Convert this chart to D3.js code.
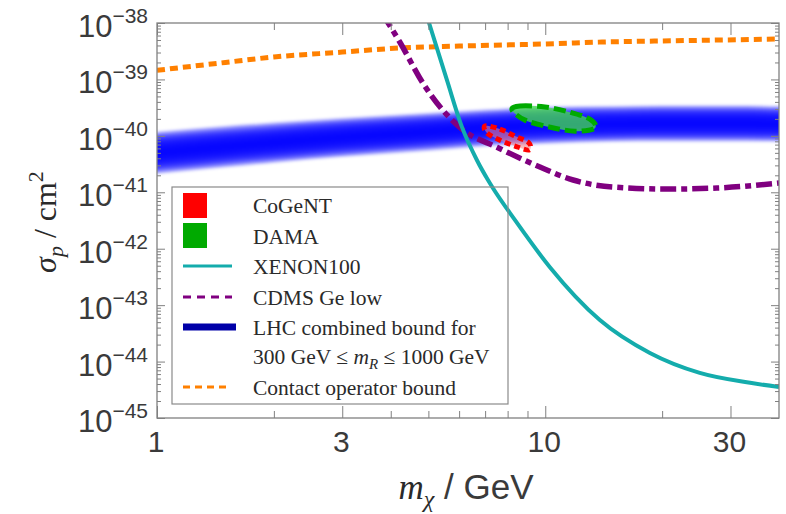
<!DOCTYPE html>
<html>
<head>
<meta charset="utf-8">
<script src="https://cdn.jsdelivr.net/npm/d3@7"></script>
<style>
  body { margin: 0; background: #fff; }
  text { fill: #2a2a2a; }
  .tick-lbl { font-family: "Liberation Sans", Arial, sans-serif; fill: #3a3a3a; }
  .serif { font-family: "Liberation Serif", "Times New Roman", serif; }
</style>
</head>
<body>
<svg id="chart" width="786" height="514"></svg>
<script>
(function(){

// axis ranges and ticks
var massDomain = [1, 40];
var sigmaDomain = [1e-45, 1e-38];
var xMajorTicks = [1, 3, 10, 30];
var xMinorTicks = [2, 4, 5, 6, 7, 8, 9, 20];
var yDecades = [-45, -44, -43, -42, -41, -40, -39, -38];

// contact operator bound (orange, dashed)
var contactMass  = [1, 1.5, 2, 3, 4.2, 6, 10, 14, 20, 40];
var contactSigma = [1.45e-39, 2.0e-39, 2.5e-39, 3.05e-39, 3.6e-39, 3.9e-39, 4.25e-39, 4.6e-39, 4.8e-39, 5.2e-39];

// XENON100 limit (teal)
var xenonMass  = [4.85, 5.02, 5.58, 6.1, 6.67, 7.12, 7.33, 8.36, 10.28, 13.8, 18.6, 25.0, 33.7, 40];
var xenonSigma = [2.1e-38, 1e-38, 9.8e-40, 1.44e-40, 3.7e-41, 1.65e-41, 1.19e-41, 3.2e-42, 4.7e-43, 5.5e-44, 1.42e-44, 6.3e-45, 4.2e-45, 3.55e-45];

// CDMS Ge low threshold (purple, dot-dashed)
var cdmsMass  = [3.8, 3.94, 4.22, 4.84, 6.14, 7.51, 9.69, 11.8, 14.9, 20.6, 27.7, 40];
var cdmsSigma = [1.5e-38, 1e-38, 4.6e-39, 8.6e-40, 1.27e-40, 6.3e-41, 2.8e-41, 1.65e-41, 1.24e-41, 1.14e-41, 1.19e-41, 1.46e-41];

// LHC combined bound band, 300 GeV <= mR <= 1000 GeV
var lhcMass = [1, 1.5, 2, 3, 5, 7, 10, 15, 20, 30, 40];
var lhcLow  = [2.1e-41, 2.75e-41, 3.3e-41, 4.2e-41, 5.4e-41, 6.5e-41, 7.2e-41, 7.8e-41, 7.9e-41, 7.9e-41, 7.8e-41];
var lhcHigh = [1.2e-40, 1.51e-40, 1.74e-40, 2.1e-40, 2.57e-40, 2.95e-40, 3.3e-40, 3.4e-40, 3.5e-40, 3.5e-40, 3.4e-40];

// CoGeNT region contour
var cogentMass  = [7.0, 7.64, 8.35, 9.08, 9.08, 8.35, 7.64, 7.08];
var cogentSigma = [1.5e-40, 1.32e-40, 9.9e-41, 7.5e-41, 5.6e-41, 6.6e-41, 8.4e-41, 1.12e-40];

// DAMA region contour
var damaMass  = [8.21, 8.61, 9.98, 11.57, 13.03, 13.43, 11.93, 10.28, 8.87];
var damaSigma = [2.87e-40, 3.38e-40, 3.25e-40, 2.63e-40, 1.98e-40, 1.37e-40, 1.21e-40, 1.43e-40, 1.9e-40];

var legendLabels = ["CoGeNT", "DAMA", "XENON100", "CDMS Ge low", "LHC combined bound for", "", "Contact operator bound"];

var svg = d3.select("#chart");
var plot = {left: 157, right: 779, top: 23, bottom: 418};

var x = d3.scaleLog().domain(massDomain).range([plot.left, plot.right]);
var y = d3.scaleLog().domain(sigmaDomain).range([plot.bottom, plot.top]);

function pairs(ms, ss) { return ms.map(function(m, i){ return [m, ss[i]]; }); }

var defs = svg.append("defs");
defs.append("clipPath").attr("id", "clip")
  .append("rect")
  .attr("x", plot.left).attr("y", plot.top)
  .attr("width", plot.right - plot.left).attr("height", plot.bottom - plot.top);
defs.append("filter").attr("id", "soft")
  .attr("x", "-5%").attr("y", "-50%").attr("width", "110%").attr("height", "200%")
  .append("feGaussianBlur").attr("stdDeviation", "0 1.6");

var g = svg.append("g").attr("clip-path", "url(#clip)");

// the LHC band, stacked translucent layers so the middle is deepest blue
var lhc = lhcMass.map(function(m, i){
  var lo = Math.log10(lhcLow[i]), hi = Math.log10(lhcHigh[i]);
  return {m: m, c: (lo + hi) / 2, h: (hi - lo) / 2};
});
var nLayers = 16;
var bandG = g.append("g").attr("filter", "url(#soft)");
d3.range(1, nLayers + 1).forEach(function(k){
  var f = k / nLayers;
  var area = d3.area()
    .curve(d3.curveMonotoneX)
    .x(function(d){ return x(d.m); })
    .y0(function(d){ return y(Math.pow(10, d.c - f * d.h)); })
    .y1(function(d){ return y(Math.pow(10, d.c + f * d.h)); });
  bandG.append("path")
    .datum(lhc)
    .attr("d", area)
    .style("fill", "#0000ff")
    .style("fill-opacity", 0.22);
});

var line = d3.line()
  .curve(d3.curveMonotoneX)
  .x(function(d){ return x(d[0]); })
  .y(function(d){ return y(d[1]); });

g.append("path")
  .datum(pairs(contactMass, contactSigma))
  .attr("d", line)
  .style("fill", "none").style("stroke", "#ff8000")
  .style("stroke-width", 5).style("stroke-dasharray", "8,5");

// DAMA and CoGeNT regions
var closed = d3.line()
  .curve(d3.curveCardinalClosed)
  .x(function(d){ return x(d[0]); })
  .y(function(d){ return y(d[1]); });

g.append("path")
  .datum(pairs(damaMass, damaSigma))
  .attr("d", closed)
  .style("fill", "#44e044").style("fill-opacity", 0.75)
  .style("stroke", "#00aa00").style("stroke-width", 5)
  .style("stroke-dasharray", "12,5");

g.append("path")
  .datum(pairs(cogentMass, cogentSigma))
  .attr("d", closed)
  .style("fill", "#ff8080").style("fill-opacity", 0.55)
  .style("stroke", "#ff0000").style("stroke-width", 5)
  .style("stroke-dasharray", "6,4");

g.append("path")
  .datum(pairs(cdmsMass, cdmsSigma))
  .attr("d", line)
  .style("fill", "none").style("stroke", "#800080")
  .style("stroke-width", 5.5).style("stroke-dasharray", "16,5,6,5");

g.append("path")
  .datum(pairs(xenonMass, xenonSigma))
  .attr("d", line)
  .style("fill", "none").style("stroke", "#14acac")
  .style("stroke-width", 4);

// frame and ticks
var frameColor = "#808080";
function tickAxis(axis, tx, ty, values, size) {
  var a = svg.append("g")
    .attr("transform", "translate(" + tx + "," + ty + ")")
    .call(axis.tickValues(values).tickSize(size).tickFormat(""));
  a.select(".domain").remove();
  a.selectAll("line").attr("stroke", frameColor);
}
var yMajor = yDecades.map(function(k){ return Math.pow(10, k); });
var yMinor = [];
yDecades.slice(0, -1).forEach(function(k){
  d3.range(2, 10).forEach(function(j){ yMinor.push(j * Math.pow(10, k)); });
});
tickAxis(d3.axisBottom(x), 0, plot.bottom, xMajorTicks, -12);
tickAxis(d3.axisBottom(x), 0, plot.bottom, xMinorTicks, -7);
tickAxis(d3.axisTop(x), 0, plot.top, xMajorTicks, -12);
tickAxis(d3.axisTop(x), 0, plot.top, xMinorTicks, -7);
tickAxis(d3.axisLeft(y), plot.left, 0, yMajor, -8);
tickAxis(d3.axisLeft(y), plot.left, 0, yMinor, -4);
tickAxis(d3.axisRight(y), plot.right, 0, yMajor, -8);
tickAxis(d3.axisRight(y), plot.right, 0, yMinor, -4);

svg.append("rect")
  .attr("x", plot.left).attr("y", plot.top)
  .attr("width", plot.right - plot.left).attr("height", plot.bottom - plot.top)
  .style("fill", "none").style("stroke", frameColor).style("stroke-width", 1.3);

// tick labels
svg.selectAll("text.xl")
  .data(xMajorTicks)
  .enter().append("text")
  .attr("class", "tick-lbl")
  .attr("x", function(d){ return x(d) - 1; })
  .attr("y", 452)
  .attr("text-anchor", "middle")
  .style("font-size", "30px")
  .text(function(d){ return d; });

var yl = svg.selectAll("text.yl")
  .data(yDecades)
  .enter().append("text")
  .attr("class", "tick-lbl")
  .attr("x", 148)
  .attr("y", function(d){ return y(Math.pow(10, d)) + 14; })
  .attr("text-anchor", "end")
  .style("font-size", "31px");
yl.append("tspan").text("10");
yl.append("tspan")
  .attr("dy", -14)
  .style("font-size", "21px")
  .text(function(d){ return "\u2212" + (-d); });

// axis titles
var xt = svg.append("text")
  .attr("x", 466).attr("y", 499)
  .attr("text-anchor", "middle")
  .style("font-size", "35px");
xt.append("tspan").attr("class", "serif").style("font-style", "italic").text("m");
xt.append("tspan").attr("class", "serif").style("font-style", "italic")
  .style("font-size", "24px").attr("dy", 8).text("\u03c7");
xt.append("tspan").attr("class", "tick-lbl").attr("dy", -8).text(" / GeV");

var yt = svg.append("text")
  .attr("transform", "translate(56,222) rotate(-90)")
  .attr("text-anchor", "middle")
  .attr("class", "serif")
  .style("font-size", "32px");
yt.append("tspan").style("font-style", "italic").text("\u03c3");
yt.append("tspan").style("font-style", "italic").style("font-size", "22px").attr("dy", 7).text("p");
yt.append("tspan").attr("dy", -7).text(" / cm");
yt.append("tspan").style("font-size", "22px").attr("dy", -13).text("2");

// legend
var lg = svg.append("g").attr("class", "serif");
lg.append("rect")
  .attr("x", 172).attr("y", 187).attr("width", 336).attr("height", 217)
  .style("fill", "none").style("stroke", "#8a8a8a").style("stroke-width", 1.2);

var rowY = [205, 236, 266, 297, 327, 358, 387];
lg.append("rect").attr("x", 183).attr("y", 193).attr("width", 24).attr("height", 25).style("fill", "#ff0000");
lg.append("rect").attr("x", 183).attr("y", 223).attr("width", 24).attr("height", 25).style("fill", "#00aa00");
lg.append("line").attr("x1", 183).attr("x2", 232).attr("y1", rowY[2]).attr("y2", rowY[2])
  .style("stroke", "#14acac").style("stroke-width", 3);
lg.append("line").attr("x1", 183).attr("x2", 232).attr("y1", rowY[3]).attr("y2", rowY[3])
  .style("stroke", "#800080").style("stroke-width", 3).style("stroke-dasharray", "8,6");
lg.append("line").attr("x1", 183).attr("x2", 236).attr("y1", rowY[4]).attr("y2", rowY[4])
  .style("stroke", "#0000a8").style("stroke-width", 7);
lg.append("line").attr("x1", 183).attr("x2", 228).attr("y1", rowY[6]).attr("y2", rowY[6])
  .style("stroke", "#ff8000").style("stroke-width", 3).style("stroke-dasharray", "7,5");

lg.selectAll("text.lab")
  .data(legendLabels)
  .enter().append("text")
  .attr("x", 253)
  .attr("y", function(d, i){ return rowY[i] + 8; })
  .style("font-size", "21.5px")
  .text(function(d){ return d; });

var mr = lg.append("text").attr("x", 253).attr("y", rowY[5] + 6).style("font-size", "21.5px");
mr.append("tspan").text("300 GeV \u2264 ");
mr.append("tspan").style("font-style", "italic").text("m");
mr.append("tspan").style("font-style", "italic").style("font-size", "15px").attr("dy", 5).text("R");
mr.append("tspan").attr("dy", -5).text(" \u2264 1000 GeV");

})();
</script>
</body>
</html>
